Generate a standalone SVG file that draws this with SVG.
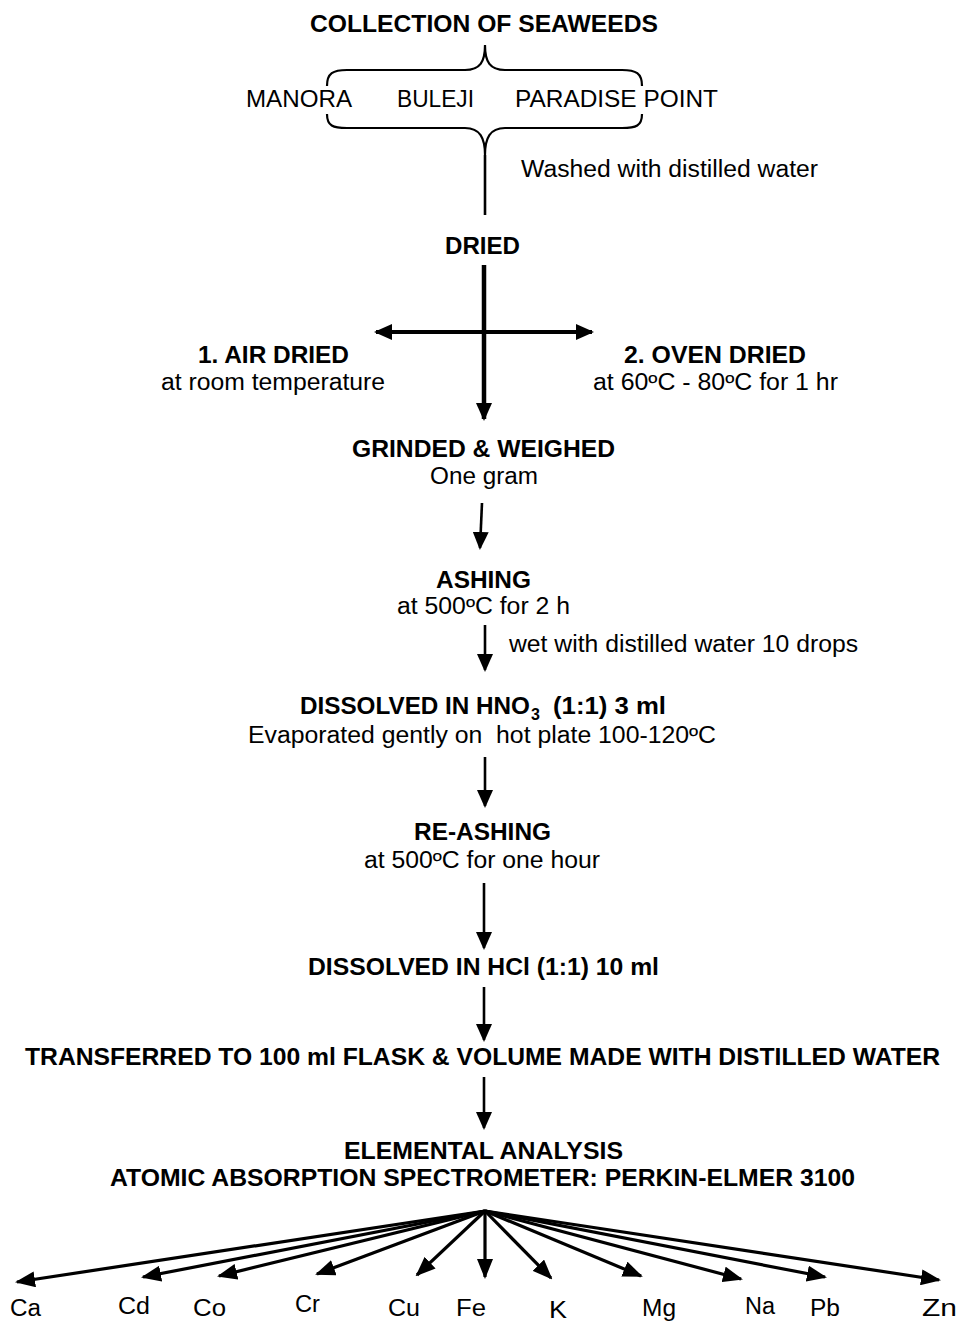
<svg xmlns="http://www.w3.org/2000/svg" width="967" height="1321" viewBox="0 0 967 1321">
<style>
text{font-family:"Liberation Sans",Arial,sans-serif;fill:#000}
.b{font-weight:bold;font-size:23px}
.r{font-size:23px}
.ln{stroke:#000;fill:none}
.a{stroke-width:2.6;marker-end:url(#ah)}
.f{stroke-width:3.2;marker-end:url(#fh)}
</style>
<defs>
<marker id="ah" markerUnits="userSpaceOnUse" markerWidth="18" markerHeight="16" viewBox="0 0 18 16" refX="16" refY="8" orient="auto-start-reverse">
<path d="M0,0 L18,8 L0,16 z" fill="#000"/>
</marker>
<marker id="fh" markerUnits="userSpaceOnUse" markerWidth="20" markerHeight="16" viewBox="0 0 20 16" refX="18" refY="8" orient="auto">
<path d="M0,0 L20,8 L0,16 z" fill="#000"/>
</marker>
</defs>
<rect width="967" height="1321" fill="#fff"/>

<g id="connectors">
<path class="ln" stroke-width="2.2" d="M327,86 C327,73 333,70 347,70 L465,70 C480,70 485,62 485,45 C485,62 490,70 505,70 L622,70 C636,70 642,73 642,86"/>
<path class="ln" stroke-width="2.2" d="M327,114 C327,126 333,128 347,128 L465,128 C480,128 485,138 485,155 C485,138 490,128 505,128 L622,128 C636,128 642,126 642,114"/>
<line class="ln" stroke-width="2.6" x1="485" y1="155" x2="485" y2="215"/>
<line class="ln" stroke-width="4.5" x1="484" y1="265" x2="484" y2="419" marker-end="url(#ah)"/>
<line class="ln" stroke-width="4" x1="376" y1="332" x2="592" y2="332" marker-start="url(#ah)" marker-end="url(#ah)"/>
<line class="ln a" x1="482" y1="503" x2="480" y2="548"/>
<line class="ln a" x1="485" y1="625" x2="485" y2="670"/>
<line class="ln a" x1="485" y1="757" x2="485" y2="806"/>
<line class="ln a" x1="484" y1="883" x2="484" y2="948"/>
<line class="ln a" x1="484" y1="987" x2="484" y2="1040"/>
<line class="ln a" x1="484" y1="1077" x2="484" y2="1128"/>
<g id="fan">
<line class="ln f" x1="485" y1="1211" x2="17" y2="1282"/>
<line class="ln f" x1="485" y1="1211" x2="143" y2="1277"/>
<line class="ln f" x1="485" y1="1211" x2="219" y2="1276"/>
<line class="ln f" x1="485" y1="1211" x2="317" y2="1274"/>
<line class="ln f" x1="485" y1="1211" x2="417" y2="1275"/>
<line class="ln f" x1="485" y1="1211" x2="485" y2="1277"/>
<line class="ln f" x1="485" y1="1211" x2="551" y2="1278"/>
<line class="ln f" x1="485" y1="1211" x2="641" y2="1276"/>
<line class="ln f" x1="485" y1="1211" x2="741" y2="1279"/>
<line class="ln f" x1="485" y1="1211" x2="825" y2="1277"/>
<line class="ln f" x1="485" y1="1211" x2="939" y2="1280"/>
</g>
</g>

<g id="collection"><text class="b" x="310" y="32" textLength="348" lengthAdjust="spacingAndGlyphs">COLLECTION OF SEAWEEDS</text></g>
<g id="manora"><text class="r" x="246" y="107" textLength="106" lengthAdjust="spacingAndGlyphs">MANORA</text></g>
<g id="buleji"><text class="r" x="397" y="107" textLength="77" lengthAdjust="spacingAndGlyphs">BULEJI</text></g>
<g id="paradise"><text class="r" x="515" y="107" textLength="203" lengthAdjust="spacingAndGlyphs">PARADISE POINT</text></g>
<g id="washed"><text class="r" x="521" y="177" textLength="297" lengthAdjust="spacingAndGlyphs">Washed with distilled water</text></g>
<g id="dried"><text class="b" x="445" y="254" textLength="75" lengthAdjust="spacingAndGlyphs">DRIED</text></g>
<g id="airdried">
<text class="b" x="198" y="363" textLength="151" lengthAdjust="spacingAndGlyphs">1. AIR DRIED</text>
<text class="r" x="161" y="390" textLength="224" lengthAdjust="spacingAndGlyphs">at room temperature</text>
</g>
<g id="ovendried">
<text class="b" x="624" y="363" textLength="182" lengthAdjust="spacingAndGlyphs">2. OVEN DRIED</text>
<text class="r" x="593" y="390" textLength="245" lengthAdjust="spacingAndGlyphs">at 60ºC - 80ºC for 1 hr</text>
</g>
<g id="grinded">
<text class="b" x="352" y="457" textLength="263" lengthAdjust="spacingAndGlyphs">GRINDED &amp; WEIGHED</text>
<text class="r" x="430" y="484" textLength="108" lengthAdjust="spacingAndGlyphs">One gram</text>
</g>
<g id="ashing">
<text class="b" x="436" y="588" textLength="95" lengthAdjust="spacingAndGlyphs">ASHING</text>
<text class="r" x="397" y="614" textLength="173" lengthAdjust="spacingAndGlyphs">at 500ºC for 2 h</text>
</g>
<g id="wet"><text class="r" x="509" y="652" textLength="349" lengthAdjust="spacingAndGlyphs">wet with distilled water 10 drops</text></g>
<g id="hno3">
<text class="b" x="300" y="714" textLength="230" lengthAdjust="spacingAndGlyphs">DISSOLVED IN HNO</text>
<text class="b" x="531" y="720" style="font-size:16px">3</text>
<text class="b" x="553" y="714" textLength="113" lengthAdjust="spacingAndGlyphs">(1:1) 3 ml</text>
<text class="r" x="248" y="743" textLength="468" lengthAdjust="spacingAndGlyphs" xml:space="preserve">Evaporated gently on  hot plate 100-120ºC</text>
</g>
<g id="reashing">
<text class="b" x="414" y="840" textLength="137" lengthAdjust="spacingAndGlyphs">RE-ASHING</text>
<text class="r" x="364" y="868" textLength="236" lengthAdjust="spacingAndGlyphs">at 500ºC for one hour</text>
</g>
<g id="hcl"><text class="b" x="308" y="975" textLength="351" lengthAdjust="spacingAndGlyphs">DISSOLVED IN HCl (1:1) 10 ml</text></g>
<g id="transferred"><text class="b" x="25" y="1065" textLength="915" lengthAdjust="spacingAndGlyphs">TRANSFERRED TO 100 ml FLASK &amp; VOLUME MADE WITH DISTILLED WATER</text></g>
<g id="elemental">
<text class="b" x="344" y="1159" textLength="279" lengthAdjust="spacingAndGlyphs">ELEMENTAL ANALYSIS</text>
<text class="b" x="110" y="1186" textLength="745" lengthAdjust="spacingAndGlyphs">ATOMIC ABSORPTION SPECTROMETER: PERKIN-ELMER 3100</text>
</g>
<g id="elements">
<text class="r" x="10" y="1316" textLength="31" lengthAdjust="spacingAndGlyphs">Ca</text>
<text class="r" x="118" y="1314" textLength="32" lengthAdjust="spacingAndGlyphs">Cd</text>
<text class="r" x="193" y="1316" textLength="33" lengthAdjust="spacingAndGlyphs">Co</text>
<text class="r" x="295" y="1312" textLength="25" lengthAdjust="spacingAndGlyphs">Cr</text>
<text class="r" x="388" y="1316" textLength="32" lengthAdjust="spacingAndGlyphs">Cu</text>
<text class="r" x="456" y="1316" textLength="30" lengthAdjust="spacingAndGlyphs">Fe</text>
<text class="r" x="549" y="1318" textLength="18" lengthAdjust="spacingAndGlyphs">K</text>
<text class="r" x="642" y="1316" textLength="34" lengthAdjust="spacingAndGlyphs">Mg</text>
<text class="r" x="745" y="1314" textLength="30" lengthAdjust="spacingAndGlyphs">Na</text>
<text class="r" x="810" y="1316" textLength="30" lengthAdjust="spacingAndGlyphs">Pb</text>
<text class="r" x="922" y="1316" textLength="35" lengthAdjust="spacingAndGlyphs">Zn</text>
</g>
</svg>
